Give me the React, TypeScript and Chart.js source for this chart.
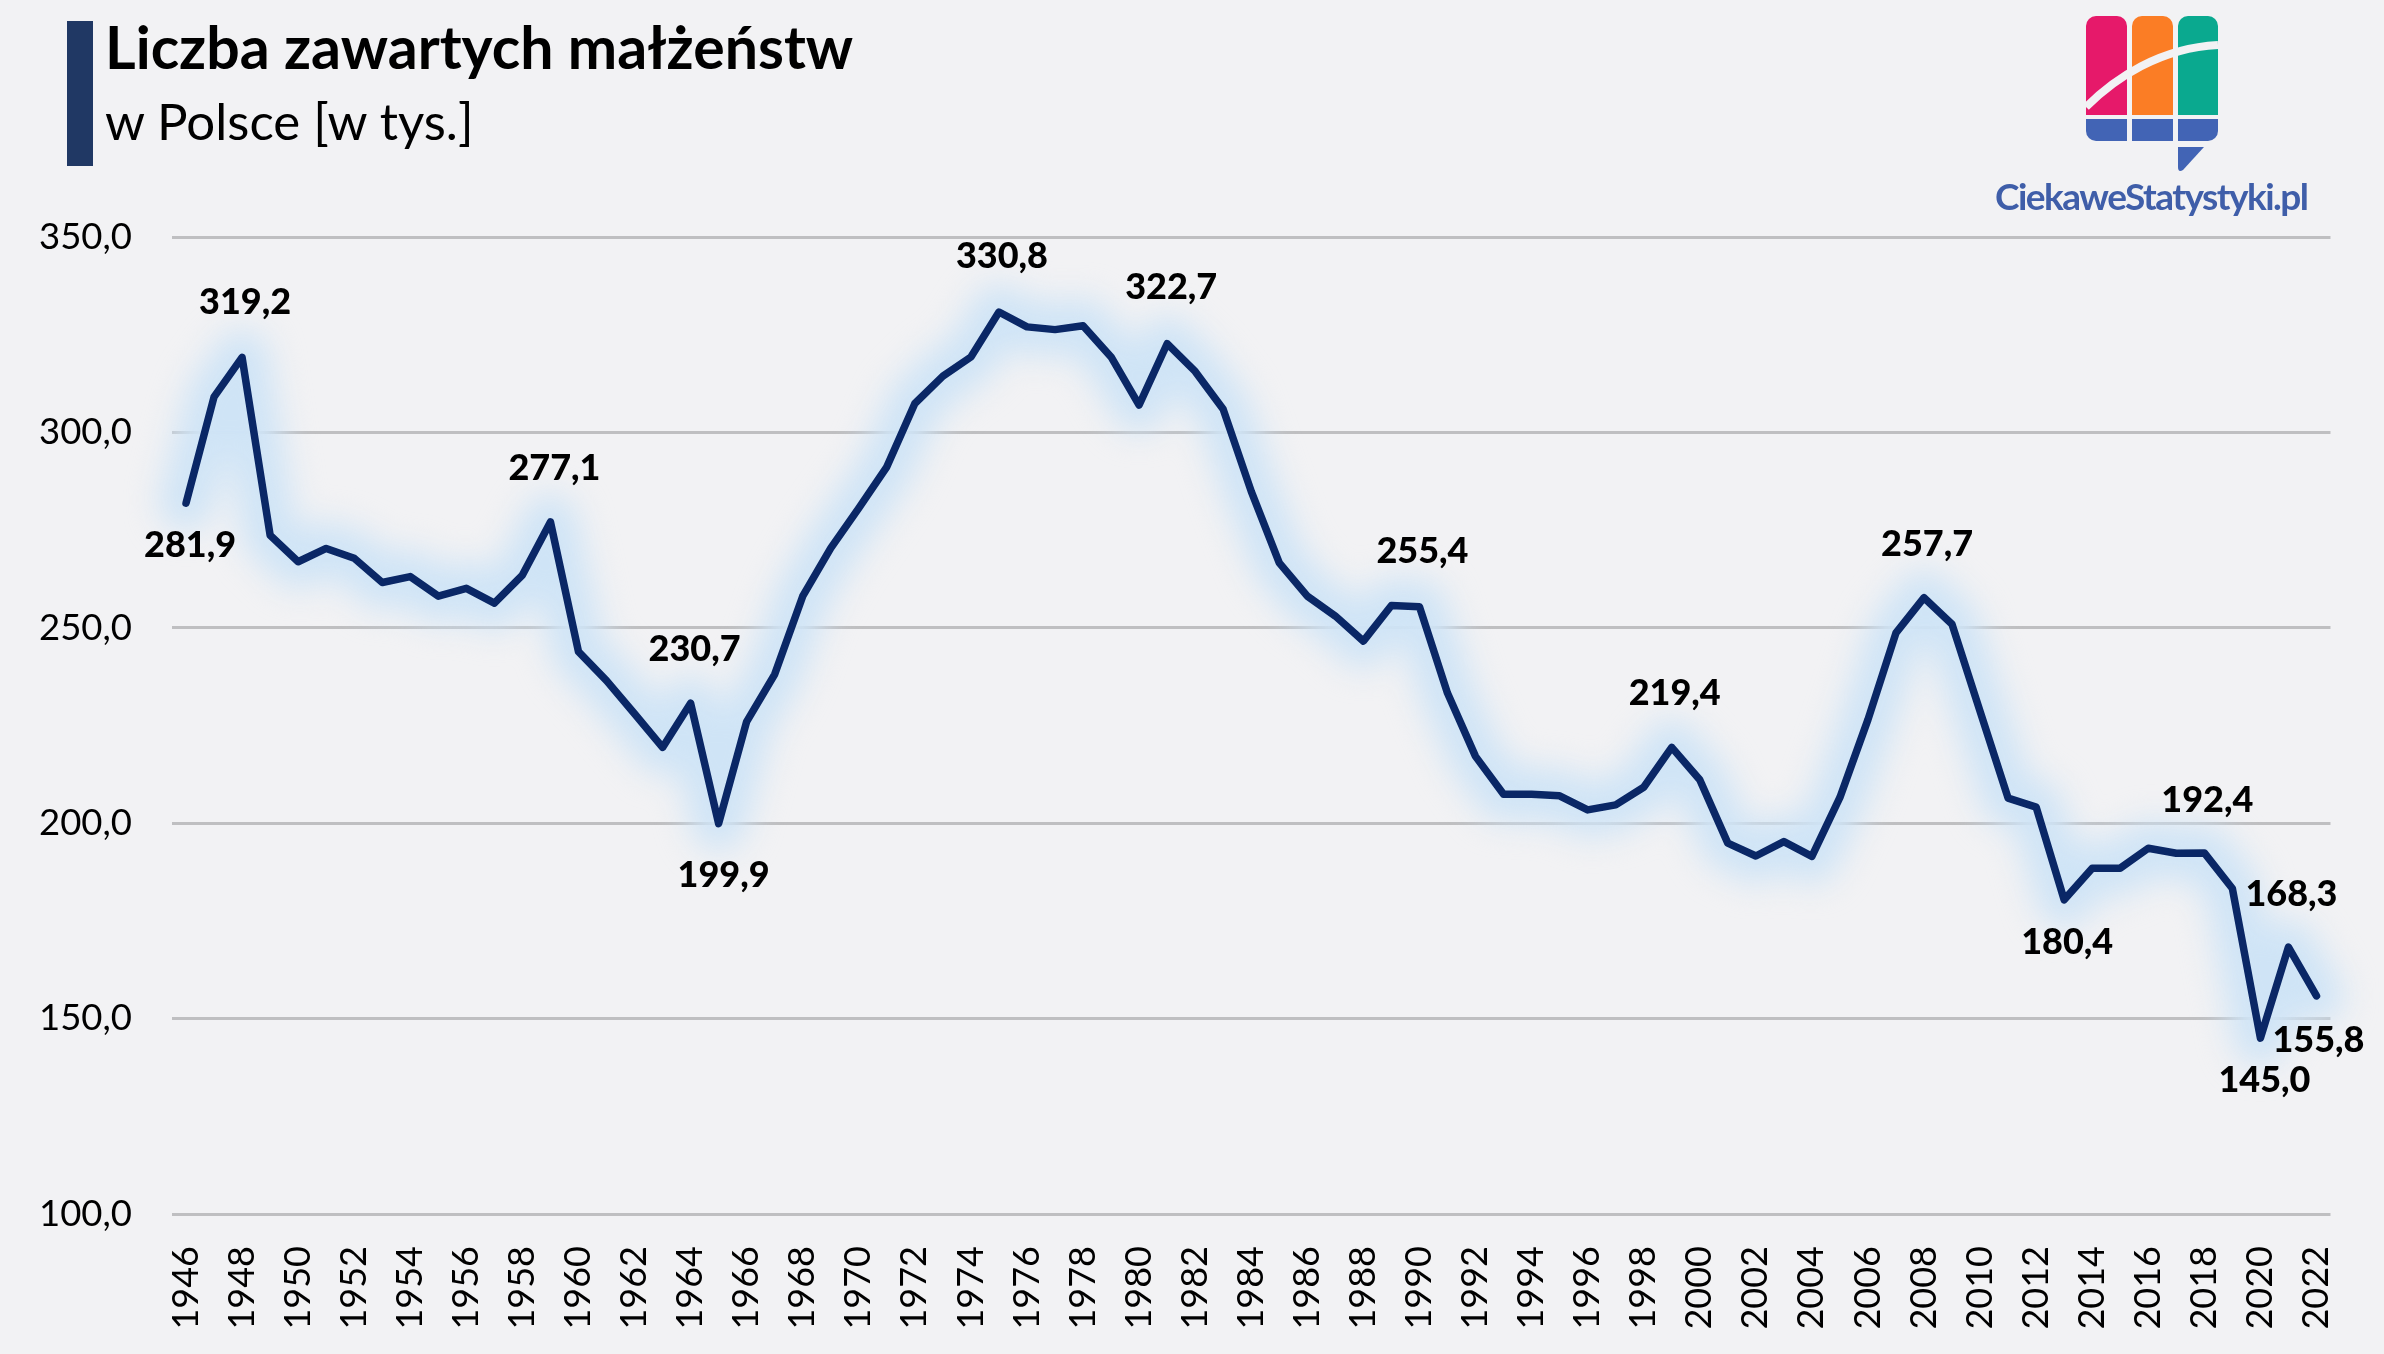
import { useEffect, useRef } from "react";
import { Chart, registerables } from "chart.js";

Chart.register(...registerables);

const years = [
  "1946", "1947", "1948", "1949", "1950", "1951", "1952", "1953", "1954", "1955",
  "1956", "1957", "1958", "1959", "1960", "1961", "1962", "1963", "1964", "1965",
  "1966", "1967", "1968", "1969", "1970", "1971", "1972", "1973", "1974", "1975",
  "1976", "1977", "1978", "1979", "1980", "1981", "1982", "1983", "1984", "1985",
  "1986", "1987", "1988", "1989", "1990", "1991", "1992", "1993", "1994", "1995",
  "1996", "1997", "1998", "1999", "2000", "2001", "2002", "2003", "2004", "2005",
  "2006", "2007", "2008", "2009", "2010", "2011", "2012", "2013", "2014", "2015",
  "2016", "2017", "2018", "2019", "2020", "2021", "2022",
];

const marriages = [
  281.9, 309.1, 319.2, 273.7, 266.9, 270.3, 267.8, 261.6, 263.1, 258.1,
  260.1, 256.3, 263.5, 277.1, 243.9, 236.5, 228.0, 219.4, 230.7, 199.9,
  226.0, 238.1, 258.1, 270.4, 280.6, 291.2, 307.4, 314.4, 319.3, 330.8,
  327.0, 326.3, 327.3, 319.3, 307.0, 322.7, 315.6, 305.9, 284.9, 266.6,
  258.1, 253.0, 246.6, 255.7, 255.4, 233.3, 217.1, 207.4, 207.4, 207.0,
  203.4, 204.7, 209.2, 219.4, 211.1, 194.9, 191.6, 195.3, 191.5, 206.6,
  226.5, 248.7, 257.7, 250.9, 228.6, 206.4, 204.1, 180.4, 188.5, 188.5,
  193.6, 192.3, 192.4, 183.3, 145.0, 168.3, 155.8,
];

const labelledYears = [
  "1946", "1948", "1959", "1964", "1965", "1975", "1981", "1990",
  "1999", "2008", "2013", "2018", "2020", "2021", "2022",
];

const FONT = "Lato, sans-serif";
const BG = "#f2f2f4";
const NAVY = "#0a2766";

// label shift from its point, in px
const labelShift: Record<string, [number, number]> = {
  "1946": [4, 42],
  "1948": [3, -55],
  "1959": [4, -54],
  "1964": [4, -54],
  "1965": [5, 52],
  "1975": [3, -56],
  "1981": [4, -56],
  "1990": [3, -55],
  "1999": [3, -54],
  "2008": [3, -53],
  "2013": [3, 43],
  "2018": [3, -53],
  "2020": [4, 42],
  "2021": [3, -53],
  "2022": [2, 44],
};

const fmt = (v: number) => v.toFixed(1).replace(".", ",");

const glowPlugin = {
  id: "glow",
  beforeDatasetDraw(chart: any, args: any) {
    if (args.index !== 0) return;
    chart.ctx.save();
    chart.ctx.filter = "blur(16px)";
  },
  afterDatasetDraw(chart: any, args: any) {
    if (args.index !== 0) return;
    chart.ctx.restore();
  },
};

const pointLabels = {
  id: "pointLabels",
  afterDatasetsDraw(chart: any) {
    const { ctx, scales } = chart;
    ctx.save();
    ctx.font = `900 36px ${FONT}`;
    ctx.fillStyle = "#000";
    ctx.textAlign = "center";
    ctx.textBaseline = "middle";
    labelledYears.forEach((year) => {
      const i = years.indexOf(year);
      const [dx, dy] = labelShift[year];
      ctx.fillText(fmt(marriages[i]), scales.x.getPixelForValue(i) + dx, scales.y.getPixelForValue(marriages[i]) + dy);
    });
    ctx.restore();
  },
};

function Logo() {
  return (
    <svg width="2384" height="1354" style={{ position: "absolute", left: 0, top: 0, pointerEvents: "none" }}>
      <path d="M2096 16h21a10 10 0 0 1 10 10v89h-41V26a10 10 0 0 1 10-10z" fill="#e6196a" />
      <path d="M2142 16h21a10 10 0 0 1 10 10v89h-41V26a10 10 0 0 1 10-10z" fill="#fb7d25" />
      <path d="M2188 16h20a10 10 0 0 1 10 10v89h-40V26a10 10 0 0 1 10-10z" fill="#0aa98f" />
      <path d="M2086 107 C2115 78 2160 48 2218 45" fill="none" stroke={BG} strokeWidth="8" />
      <path d="M2086 119h41v22h-31a10 10 0 0 1-10-10z" fill="#4264b5" />
      <rect x="2132" y="119" width="41" height="22" fill="#4264b5" />
      <path d="M2178 119h40v12a10 10 0 0 1-10 10h-30z" fill="#4264b5" />
      <path d="M2178 147h26l-21 23q-5 3-5-3z" fill="#4264b5" />
      <text x="1995" y="210" fill="#3f5ea9" fontFamily={FONT} fontWeight="700" fontSize="37" textLength="314">
        CiekaweStatystyki.pl
      </text>
    </svg>
  );
}

export default function App() {
  const canvasRef = useRef<HTMLCanvasElement>(null);

  useEffect(() => {
    if (!canvasRef.current) return;
    document.body.style.margin = "0";
    document.body.style.background = BG;

    const chart = new Chart(canvasRef.current, {
      type: "line",
      data: {
        labels: years,
        datasets: [
          {
            label: "glow",
            data: marriages,
            borderColor: "#cfe4f6",
            borderWidth: 54,
            pointRadius: 0,
            tension: 0,
            borderJoinStyle: "round",
            borderCapStyle: "round",
            clip: false,
            order: 2,
          },
          {
            label: "Liczba zawartych małżeństw",
            data: marriages,
            borderColor: NAVY,
            borderWidth: 7.5,
            pointRadius: 0,
            tension: 0,
            borderJoinStyle: "round",
            borderCapStyle: "round",
            clip: false,
            order: 1,
          },
        ],
      },
      options: {
        responsive: false,
        animation: false,
        layout: { padding: { top: 237, right: 51, bottom: 0, left: 0 } },
        plugins: {
          legend: { display: false },
          tooltip: { enabled: false },
        },
        scales: {
          x: {
            offset: true,
            grid: { display: false },
            border: { display: false },
            afterFit: (s: any) => { s.height = 140; },
            ticks: {
              autoSkip: false,
              minRotation: 90,
              maxRotation: 90,
              padding: 24,
              color: "#000",
              font: { family: FONT, size: 36 },
              callback: (_v: any, i: number) => (i % 2 === 0 ? years[i] : ""),
            },
          },
          y: {
            min: 100,
            max: 350,
            grid: { color: "#bfbfc1", lineWidth: 3, drawTicks: false },
            border: { display: false },
            afterFit: (s: any) => { s.width = 172; },
            ticks: {
              stepSize: 50,
              padding: 40,
              color: "#000",
              font: { family: FONT, size: 36.5 },
              callback: (v: any) => fmt(Number(v)),
            },
          },
        },
      },
      plugins: [glowPlugin, pointLabels],
    } as any);

    return () => chart.destroy();
  }, []);

  return (
    <div style={{ position: "relative", width: 2384, height: 1354, background: BG, overflow: "hidden" }}>
      <canvas ref={canvasRef} width={2384} height={1354} style={{ display: "block", width: 2384, height: 1354 }} />
      <div style={{ position: "absolute", left: 67, top: 21, width: 26, height: 145, background: "#203864" }} />
      <div style={{ position: "absolute", left: 105, top: 13, font: `700 59px ${FONT}`, color: "#000", lineHeight: "68px", whiteSpace: "nowrap" }}>
        Liczba zawartych małżeństw
      </div>
      <div style={{ position: "absolute", left: 105, top: 90, font: `400 51px ${FONT}`, color: "#000", lineHeight: "62px", whiteSpace: "nowrap" }}>
        w Polsce [w tys.]
      </div>
      <Logo />
    </div>
  );
}
